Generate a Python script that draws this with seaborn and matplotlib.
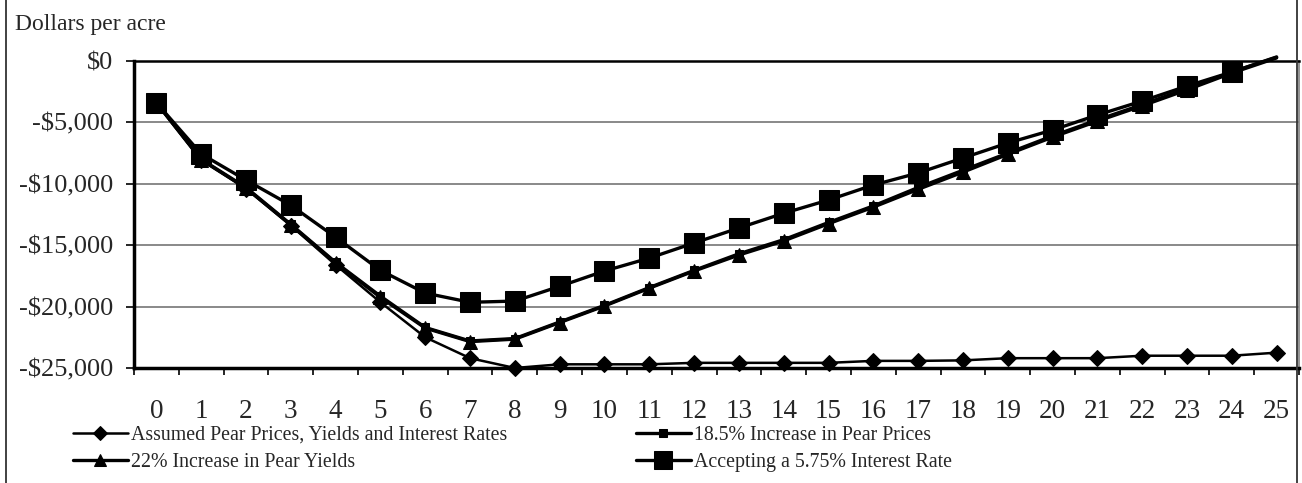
import matplotlib
matplotlib.use("Agg")
import matplotlib.pyplot as plt
import matplotlib.ticker as mticker
from matplotlib.lines import Line2D
import numpy as np
import seaborn as sns

# Years after planting
years = list(range(26))

# Cumulative net returns, dollars per acre
assumed = [-3400, -8050, -10400, -13400, -16600, -19650, -22500, -24200, -25000,
           -24700, -24700, -24700, -24580, -24580, -24580, -24580, -24420, -24420,
           -24380, -24200, -24200, -24200, -24000, -24000, -24000, -23750]
price_up = [-3400, -8000, -10300, -13300, -16400, -19150, -21700, -22800, -22600,
            -21250, -19900, -18450, -17050, -15700, -14550, -13150, -11800, -10300,
            -8900, -7500, -6100, -4800, -3550, -2250, -900, 300]
yield_up = [-3400, -8050, -10350, -13350, -16450, -19250, -21750, -22850, -22650,
            -21300, -19950, -18500, -17100, -15800, -14650, -13250, -11900, -10450,
            -9050, -7600, -6200, -4900, -3650, -2350, -980, 250]
rate_575 = [-3400, -7570, -9700, -11750, -14350, -17050, -18900, -19650, -19550,
            -18350, -17100, -16050, -14820, -13600, -12400, -11320, -10100, -9120,
            -7900, -6680, -5620, -4400, -3260, -2040, -900, 330]

labels = ["Assumed Pear Prices, Yields and Interest Rates",
          "18.5% Increase in Pear Prices",
          "22% Increase in Pear Yields",
          "Accepting a 5.75% Interest Rate"]

y_ticks = [0, -5000, -10000, -15000, -20000, -25000]

sns.set_style("white")
plt.rcParams["font.family"] = ["Liberation Serif", "DejaVu Serif"]

W, H = 1302, 483
fig = plt.figure(figsize=(W / 100, H / 100), dpi=100)
ax = fig.add_axes([134 / W, 1 - 368 / H, (1299 - 134) / W, (368 - 61) / H])


def visible(vals):
    # markers are only drawn for points inside the value range
    return [i for i, v in enumerate(vals) if v <= 0]


common = dict(color="black", clip_on=False, markeredgecolor="black", ax=ax)

sns.lineplot(x=years, y=assumed, marker="D", markersize=8.5, linewidth=1.8,
             markevery=visible(assumed), label=labels[0], **common)
sns.lineplot(x=years, y=yield_up, marker="^", markersize=10, linewidth=2.4,
             markevery=visible(yield_up), label=labels[2], **common)
sns.lineplot(x=years, y=price_up, marker="s", markersize=6, linewidth=2.4,
             markevery=visible(price_up), label=labels[1], **common)
sns.lineplot(x=years, y=rate_575, marker="s", markersize=15, linewidth=2.4,
             markevery=visible(rate_575), label=labels[3], **common)

ax.set_xlim(-0.5, 25.5)
ax.set_ylim(-25000, 0)
ax.set_xlabel("")
ax.set_ylabel("")

ax.set_xticks(years)
ax.set_xticklabels([str(y) for y in years])
ax.set_xticks(np.arange(-0.5, 26, 1), minor=True)
ax.tick_params(axis="x", which="major", length=0, pad=22, labelsize=19.5)
ax.tick_params(axis="x", which="minor", length=5, width=1.2, direction="out",
               color="black", bottom=True)

ax.set_yticks(y_ticks)
ax.yaxis.set_major_formatter(mticker.FuncFormatter(
    lambda v, _: f"-${abs(v):,.0f}" if v < 0 else f"${v:,.0f}"))
ax.tick_params(axis="y", length=6, width=1.2, direction="out", color="black",
               left=True, pad=9, labelsize=19)

ax.yaxis.grid(True, color="#808080", linewidth=1.3)
ax.set_axisbelow(True)
for side in ("left", "bottom"):
    ax.spines[side].set_color("black")
    ax.spines[side].set_linewidth(2.5)
ax.spines["top"].set_color("black")
ax.spines["top"].set_linewidth(1.8)
ax.spines["right"].set_color("#808080")
ax.spines["right"].set_linewidth(1.2)

fig.text(15 / W, 1 - 30 / H, "Dollars per acre", fontsize=17, va="baseline",
         ha="left")

handles, hl = ax.get_legend_handles_labels()
lookup = dict(zip(hl, handles))
order = [labels[0], labels[2], labels[1], labels[3]]
ax.legend_.remove()
fig.legend([lookup[k] for k in order], order, loc="upper left",
           bbox_to_anchor=(73 / W, 1 - 426 / H), ncol=2, frameon=False,
           fontsize=14.3, handlelength=2.75, handletextpad=0.15,
           columnspacing=6.5, labelspacing=0.38, borderpad=0, borderaxespad=0,
           markerscale=0.85)

# chart frame sides
for xp in (6, 1297):
    fig.add_artist(Line2D([xp / W, xp / W], [0, 1], transform=fig.transFigure,
                          color="#333333", linewidth=1.3))

fig.savefig("out.png", dpi=100)
